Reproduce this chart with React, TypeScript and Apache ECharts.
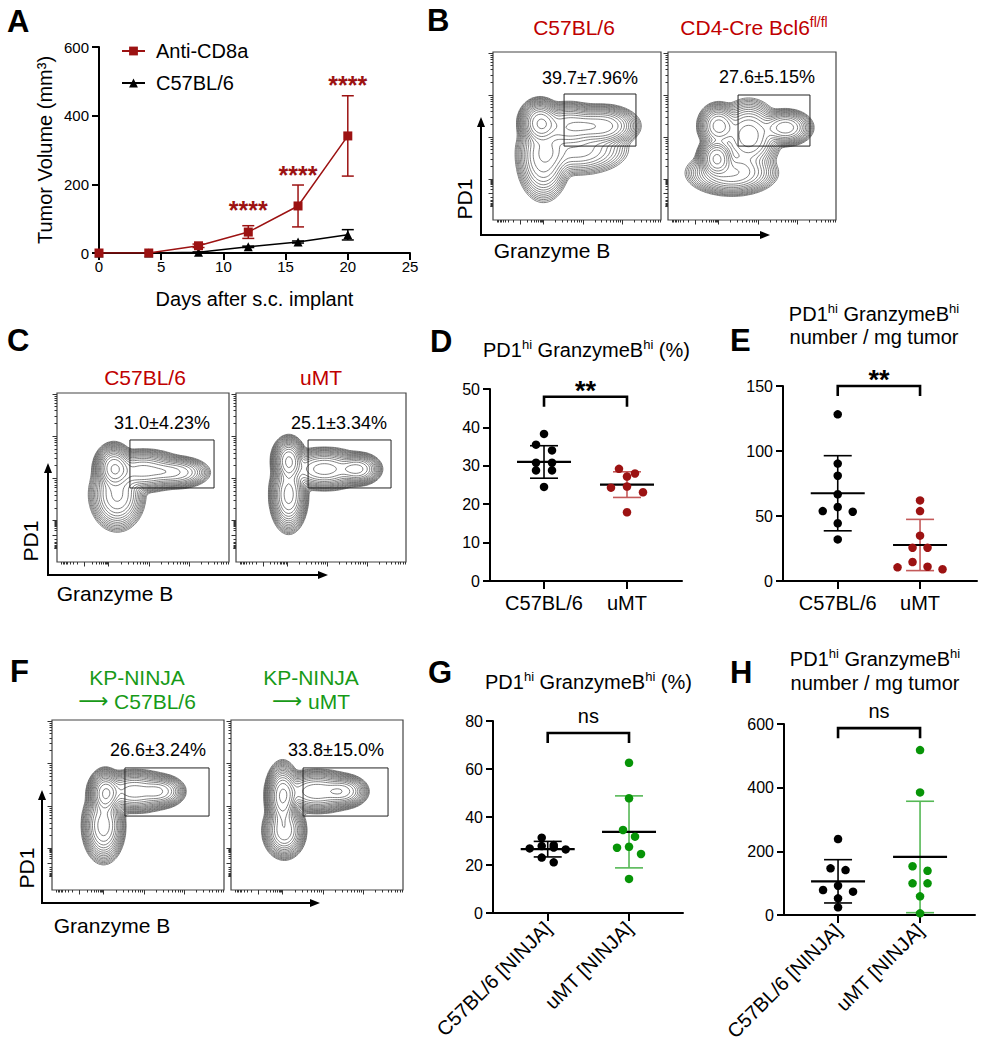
import React, { useEffect, useRef } from "react";
import * as echarts from "echarts";

// ================= DATA =================
// Panel A – tumour growth
const aDays = [0, 4, 8, 12, 16, 20];
const aAntiMean = [0, 0, 21, 61, 137, 341];
const aAntiSd = [0, 0, 5, 18.5, 61, 117];
const aC57Mean = [0, 0, 2, 18, 32, 53];
const aC57Sd = [0, 0, 1, 2, 3, 15];
const aSigDays = [12, 16, 20];
const aSigHeights = [140, 242, 506];
const aSigLabel = "****";
const aXTicks = [0, 5, 10, 15, 20, 25];
const aYTicks = [0, 200, 400, 600];
const aSeriesNames = ["Anti-CD8a", "C57BL/6"];

// Panel D
const dCategories = ["C57BL/6", "uMT"];
const dC57 = [38.3, 35.5, 34.0, 30.8, 30.8, 28.8, 28.8, 24.5];
const dUmt = [29.2, 28.0, 27.2, 24.6, 24.3, 23.1, 17.9];
const dMean = [31.0, 25.1];
const dSd = [4.23, 3.34];
const dYTicks = [0, 10, 20, 30, 40, 50];
const dSig = "**";
const dSigY = 48;

// Panel E
const eC57 = [128.2, 90.3, 81, 66.7, 56.9, 53.8, 53.3, 44.4, 32];
const eUmt = [62, 53.8, 34.9, 25.6, 25.6, 14.6, 11, 10.5, 9];
const eMean = [67.5, 27.7];
const eSd = [28.9, 19.7];
const eYTicks = [0, 50, 100, 150];
const eSig = "**";
const eSigY = 150;

// Panel G
const gCategories = ["C57BL/6 [NINJA]", "uMT [NINJA]"];
const gC57 = [31.4, 28.3, 27.9, 27.3, 26.9, 26.5, 23.1, 21.1];
const gUmt = [62.6, 47.8, 34.6, 31.8, 27.6, 27.2, 24.6, 14.2];
const gMean = [26.6, 33.8];
const gSd = [3.24, 15.0];
const gYTicks = [0, 20, 40, 60, 80];
const gSig = "ns";
const gSigY = 75;

// Panel H
const hC57 = [238.7, 146.6, 141, 92, 78.5, 73.3, 52.4, 24];
const hUmt = [518, 385, 153, 139, 99.5, 99.5, 58.6, 5.2];
const hMean = [105.8, 182.3];
const hSd = [68, 175];
const hYTicks = [0, 200, 400, 600];
const hSig = "ns";
const hSigY = 587;

// Flow plots (B, C, F): density blobs [u, v, spreadU, spreadV, weight], gates [u0, v0, u1, v1]
const bBlobs1 = [[0.28, 0.58, 0.045, 0.05, 1.0], [0.45, 0.56, 0.08, 0.05, 0.55], [0.65, 0.56, 0.08, 0.045, 0.5], [0.3, 0.38, 0.06, 0.1, 0.3], [0.5, 0.42, 0.12, 0.06, 0.15]];
const bBlobs2 = [[0.29, 0.37, 0.04, 0.045, 1.0], [0.3, 0.56, 0.045, 0.05, 0.45], [0.48, 0.5, 0.07, 0.08, 0.35], [0.7, 0.55, 0.06, 0.04, 0.35], [0.38, 0.28, 0.1, 0.05, 0.3]];
const cBlobs1 = [[0.33, 0.56, 0.04, 0.05, 1.0], [0.5, 0.54, 0.09, 0.045, 0.5], [0.7, 0.53, 0.07, 0.035, 0.3], [0.35, 0.4, 0.06, 0.08, 0.35]];
const cBlobs2 = [[0.31, 0.6, 0.035, 0.05, 1.0], [0.31, 0.4, 0.04, 0.08, 0.6], [0.52, 0.55, 0.09, 0.045, 0.45], [0.72, 0.55, 0.05, 0.035, 0.4]];
const fBlobs1 = [[0.31, 0.57, 0.035, 0.05, 1.0], [0.3, 0.38, 0.045, 0.08, 0.5], [0.48, 0.58, 0.09, 0.045, 0.5], [0.64, 0.58, 0.05, 0.035, 0.3]];
const fBlobs2 = [[0.3, 0.55, 0.035, 0.07, 1.0], [0.31, 0.35, 0.045, 0.06, 0.5], [0.5, 0.58, 0.09, 0.045, 0.5], [0.66, 0.58, 0.05, 0.035, 0.35]];
const bGates = [[0.423, 0.44, 0.851, 0.75], [0.417, 0.44, 0.845, 0.744]];
const cGates = [[0.424, 0.438, 0.913, 0.722], [0.424, 0.438, 0.912, 0.722]];
const fGates = [[0.424, 0.435, 0.913, 0.718], [0.419, 0.435, 0.913, 0.718]];
const bPercents = ["39.7±7.96%", "27.6±5.15%"];
const cPercents = ["31.0±4.23%", "25.1±3.34%"];
const fPercents = ["26.6±3.24%", "33.8±15.0%"];
const cTitles = ["C57BL/6", "uMT"];
const fTitles = [["KP-NINJA", "C57BL/6"], ["KP-NINJA", "uMT"]];

// ================= STYLE =================
const FONT = "'Liberation Sans', Arial, Helvetica, sans-serif";
const RED = "#9c1212";
const RED_TITLE = "#c00000";
const RED_ERR = "#c45a5a";
const GREEN = "#079407";
const GREEN_TITLE = "#179a17";
const GREEN_ERR = "#55b855";
const CONTOUR_SHARPNESS = 2.5;
const CONTOUR_SCALE = 1.22;

// ================= HELPERS =================
const MS_TABLE = [[], [3, 0], [0, 1], [3, 1], [1, 2], [3, 0, 1, 2], [0, 2], [3, 2], [2, 3], [0, 2], [0, 1, 2, 3], [1, 2], [1, 3], [0, 1], [0, 3], []];

function contourLevels(blobs: number[][], n: number, count: number, ratio: number) {
  const f = (u: number, v: number) => {
    let s = 0;
    for (const b of blobs) {
      const dx = (u - b[0]) / (b[2] * CONTOUR_SCALE);
      const dy = (v - b[1]) / (b[3] * CONTOUR_SCALE);
      const r = Math.sqrt(dx * dx + dy * dy);
      s += b[4] * Math.exp(-0.5 * Math.pow(r, CONTOUR_SHARPNESS));
    }
    return s;
  };
  const g: number[][] = [];
  let mx = 0;
  for (let i = 0; i <= n; i++) {
    g.push([]);
    for (let j = 0; j <= n; j++) {
      const val = f(i / n, j / n);
      g[i].push(val);
      if (val > mx) mx = val;
    }
  }
  const out: number[][][] = [];
  for (let k = 0; k < count; k++) {
    const L = mx * 0.92 * Math.pow(ratio, k);
    const segs: number[][] = [];
    for (let i = 0; i < n; i++) {
      for (let j = 0; j < n; j++) {
        const v0 = g[i][j], v1 = g[i + 1][j], v2 = g[i + 1][j + 1], v3 = g[i][j + 1];
        const c = (v0 > L ? 1 : 0) | (v1 > L ? 2 : 0) | (v2 > L ? 4 : 0) | (v3 > L ? 8 : 0);
        if (c === 0 || c === 15) continue;
        const x0 = i / n, x1 = (i + 1) / n, y0 = j / n, y1 = (j + 1) / n;
        const e = (q: number): number[] => {
          if (q === 0) return [x0 + ((L - v0) / (v1 - v0)) * (x1 - x0), y0];
          if (q === 1) return [x1, y0 + ((L - v1) / (v2 - v1)) * (y1 - y0)];
          if (q === 2) return [x1 - ((L - v2) / (v3 - v2)) * (x1 - x0), y1];
          return [x0, y1 - ((L - v3) / (v0 - v3)) * (y1 - y0)];
        };
        const t = MS_TABLE[c];
        for (let m = 0; m < t.length; m += 2) {
          const p = e(t[m]), q = e(t[m + 1]);
          segs.push([p[0], p[1], q[0], q[1]]);
        }
      }
    }
    if (segs.length) out.push(segs);
  }
  return out;
}

function logTicks(zero: number, first: number, dec: number) {
  const major = [zero];
  const minor: number[] = [];
  for (let p = first; p <= 1.0001; p += dec) major.push(p);
  const w = first - zero;
  for (let m = 2; m <= 9; m++) {
    const l = Math.log10(m);
    minor.push(zero + w * l, zero - w * l);
    for (let p = first; p + dec * l <= 1; p += dec) minor.push(p + dec * l);
  }
  return { major, minor: minor.filter((t) => t >= 0 && t <= 1) };
}

function swarm(values: number[], center: number, pxY: number, pxX: number, slotPx: number, thrPx: number) {
  const order = values.map((_, i) => i).sort((a, b) => values[b] - values[a]);
  const clusters: number[][] = [];
  for (const i of order) {
    const cur = clusters[clusters.length - 1];
    if (cur && (values[cur[0]] - values[i]) * pxY <= thrPx) cur.push(i);
    else clusters.push([i]);
  }
  const pts: number[][] = [];
  for (const cl of clusters) {
    const n = cl.length;
    const slots = Array.from({ length: n }, (_, j) => j - (n - 1) / 2).sort((a, b) => Math.abs(a) - Math.abs(b) || a - b);
    cl.forEach((i, k) => pts.push([center + (slots[k] * slotPx) / pxX, values[i]]));
  }
  return pts;
}

const seg = (x1: number, y1: number, x2: number, y2: number, stroke: string, lineWidth: number) => ({
  type: "line",
  silent: true,
  shape: { x1, y1, x2, y2 },
  style: { stroke, lineWidth },
});

const txt = (x: number, y: number, text: string, o: any = {}) => ({
  type: "text",
  x,
  y,
  rotation: o.rotation || 0,
  silent: true,
  style: {
    text,
    fontSize: o.size || 20,
    fontFamily: FONT,
    fontWeight: o.weight || "normal",
    fill: o.color || "#000",
    align: o.align || "center",
    verticalAlign: "middle",
    rich: o.rich,
  },
});

const supRich = (size: number, color: string) => ({
  n: { fontSize: size, fontFamily: FONT, lineHeight: size + 4, fill: color },
  s: { fontSize: Math.round(size * 0.65), fontFamily: FONT, verticalAlign: "top", fill: color },
  a: { fontSize: size, fontFamily: "DejaVu Sans", lineHeight: size + 4, fill: color },
});

const arrowV = (x: number, y0: number, tip: number) => [
  seg(x, y0 + 1, x, tip + 8, "#000", 2),
  { type: "polygon", silent: true, shape: { points: [[x - 4, tip + 10], [x + 4, tip + 10], [x, tip]] }, style: { fill: "#000" } },
];
const arrowH = (y: number, x0: number, tip: number) => [
  seg(x0 - 1, y, tip - 8, y, "#000", 2),
  { type: "polygon", silent: true, shape: { points: [[tip - 10, y - 4], [tip - 10, y + 4], [tip, y]] }, style: { fill: "#000" } },
];

// ================= OPTION =================
function buildOption() {
  const grids: any[] = [];
  const xAxes: any[] = [];
  const yAxes: any[] = [];
  const series: any[] = [];
  const axisBase = { color: "#000", width: 2 };

  // ---------- Panel A ----------
  const gA = { left: 99, top: 47, width: 311, height: 206 };
  grids.push({ ...gA, outerBoundsMode: "none" });
  xAxes.push({
    gridIndex: 0, type: "value", min: aXTicks[0], max: aXTicks[aXTicks.length - 1], interval: aXTicks[1] - aXTicks[0],
    axisLine: { onZero: false, lineStyle: axisBase }, axisTick: { length: 7, lineStyle: axisBase },
    axisLabel: { fontSize: 15, color: "#000", fontFamily: FONT, margin: 6 }, splitLine: { show: false },
    name: "Days after s.c. implant", nameLocation: "middle", nameGap: 36,
    nameTextStyle: { fontSize: 20, color: "#000", fontFamily: FONT },
  });
  yAxes.push({
    gridIndex: 0, type: "value", min: aYTicks[0], max: aYTicks[aYTicks.length - 1], interval: aYTicks[1] - aYTicks[0],
    axisLine: { show: true, onZero: false, lineStyle: axisBase }, axisTick: { show: true, length: 7, lineStyle: axisBase },
    axisLabel: { fontSize: 15, color: "#000", fontFamily: FONT, margin: 10 }, splitLine: { show: false },
    name: "Tumor Volume (mm³)", nameLocation: "middle", nameGap: 44, nameRotate: 90,
    nameTextStyle: { fontSize: 20, color: "#000", fontFamily: FONT },
  });
  const errRender = (color: string) => (params: any, api: any) => {
    const x = api.value(0), m = api.value(1), s = api.value(2);
    if (!s) return null;
    const t = api.coord([x, m + s]);
    const b = api.coord([x, Math.max(0, m - s)]);
    return {
      type: "group",
      children: [seg(t[0], t[1], b[0], b[1], color, 1.5), seg(t[0] - 6, t[1], t[0] + 6, t[1], color, 1.5), seg(b[0] - 6, b[1], b[0] + 6, b[1], color, 1.5)],
    };
  };
  series.push(
    { type: "custom", name: "errAnti", xAxisIndex: 0, yAxisIndex: 0, z: 1, silent: true, data: aDays.map((d, i) => [d, aAntiMean[i], aAntiSd[i]]), renderItem: errRender(RED) },
    { type: "custom", name: "errC57", xAxisIndex: 0, yAxisIndex: 0, z: 1, silent: true, data: aDays.map((d, i) => [d, aC57Mean[i], aC57Sd[i]]), renderItem: errRender("#000") },
    {
      type: "line", name: aSeriesNames[0], xAxisIndex: 0, yAxisIndex: 0, z: 3, data: aDays.map((d, i) => [d, aAntiMean[i]]),
      symbol: "rect", symbolSize: 9, itemStyle: { color: RED, opacity: 1 }, lineStyle: { color: RED, width: 1.5 },
    },
    {
      type: "line", name: aSeriesNames[1], xAxisIndex: 0, yAxisIndex: 0, z: 2, data: aDays.map((d, i) => [d, aC57Mean[i]]),
      symbol: "triangle", symbolSize: 9, itemStyle: { color: "#000", opacity: 1 }, lineStyle: { color: "#000", width: 1.5 },
    },
    {
      type: "custom", name: "starsA", xAxisIndex: 0, yAxisIndex: 0, z: 4, silent: true,
      data: aSigDays.map((d, i) => [d, aSigHeights[i]]),
      renderItem: (params: any, api: any) => {
        const p = api.coord([api.value(0), api.value(1)]);
        return { type: "text", x: p[0], y: p[1] + 5.5, style: { text: aSigLabel, fontSize: 25, fontWeight: "bold", fontFamily: FONT, fill: RED, align: "center", verticalAlign: "middle" } };
      },
    }
  );

  // ---------- Dot panels D, E, G, H ----------
  const dotPanels = [
    { grid: { left: 490, top: 389, width: 192, height: 192 }, xMin: -0.651, xMax: 1.663, yTicks: dYTicks, cats: dCategories, a: dC57, b: dUmt, mean: dMean, sd: dSd, sig: dSig, sigY: dSigY, colorB: RED, errB: RED_ERR, slot: 16, rotate: 0, catFont: 20 },
    { grid: { left: 783, top: 386, width: 194, height: 195 }, xMin: -0.665, xMax: 1.692, yTicks: eYTicks, cats: dCategories, a: eC57, b: eUmt, mean: eMean, sd: eSd, sig: eSig, sigY: eSigY, colorB: RED, errB: RED_ERR, slot: 15, rotate: 0, catFont: 20 },
    { grid: { left: 493, top: 721, width: 190, height: 192 }, xMin: -0.673, xMax: 1.664, yTicks: gYTicks, cats: gCategories, a: gC57, b: gUmt, mean: gMean, sd: gSd, sig: gSig, sigY: gSigY, colorB: GREEN, errB: GREEN_ERR, slot: 12, rotate: 45, catFont: 20 },
    { grid: { left: 784, top: 724, width: 191, height: 191 }, xMin: -0.659, xMax: 1.67, yTicks: hYTicks, cats: gCategories, a: hC57, b: hUmt, mean: hMean, sd: hSd, sig: hSig, sigY: hSigY, colorB: GREEN, errB: GREEN_ERR, slot: 15, rotate: 45, catFont: 20 },
  ];
  dotPanels.forEach((p) => {
    const gi = grids.length;
    const ai = xAxes.length;
    grids.push({ ...p.grid, outerBoundsMode: "none" });
    const yMin = p.yTicks[0], yMax = p.yTicks[p.yTicks.length - 1];
    xAxes.push({
      gridIndex: gi, type: "value", min: p.xMin, max: p.xMax,
      axisLine: { show: true, onZero: false, lineStyle: axisBase },
      axisTick: { show: true, customValues: [0, 1], length: 8, lineStyle: axisBase },
      axisLabel: { show: true, customValues: [0, 1], formatter: (v: number) => p.cats[Math.round(v)], fontSize: p.catFont, color: "#000", fontFamily: FONT, margin: 12, rotate: p.rotate },
      splitLine: { show: false },
    });
    yAxes.push({
      gridIndex: gi, type: "value", min: yMin, max: yMax, interval: p.yTicks[1] - p.yTicks[0],
      axisLine: { show: true, onZero: false, lineStyle: axisBase }, axisTick: { show: true, length: 7, lineStyle: axisBase },
      axisLabel: { fontSize: 16, color: "#000", fontFamily: FONT, margin: 10 }, splitLine: { show: false },
    });
    const pxY = p.grid.height / (yMax - yMin);
    const pxX = p.grid.width / (p.xMax - p.xMin);
    const errColors = ["#000", p.errB];
    series.push(
      {
        type: "custom", xAxisIndex: ai, yAxisIndex: ai, z: 1, silent: true,
        data: [0, 1].map((c) => [c, p.mean[c], p.sd[c]]),
        renderItem: (params: any, api: any) => {
          const x = api.value(0), m = api.value(1), s = api.value(2);
          const c = api.coord([x, m]);
          const t = api.coord([x, m + s]);
          const b = api.coord([x, Math.max(yMin, m - s)]);
          const col = errColors[params.dataIndex];
          return {
            type: "group",
            children: [
              seg(c[0], t[1], c[0], b[1], col, 1.6),
              seg(c[0] - 14, t[1], c[0] + 14, t[1], col, 1.6),
              seg(c[0] - 14, b[1], c[0] + 14, b[1], col, 1.6),
              seg(c[0] - 27, c[1], c[0] + 27, c[1], "#000", 2.2),
            ],
          };
        },
      },
      {
        type: "scatter", name: "a" + gi, xAxisIndex: ai, yAxisIndex: ai, z: 3, symbol: "circle", symbolSize: 8.5,
        itemStyle: { color: "#000", opacity: 1 }, data: swarm(p.a, 0, pxY, pxX, p.slot, 7.5),
      },
      {
        type: "scatter", name: "b" + gi, xAxisIndex: ai, yAxisIndex: ai, z: 3, symbol: "circle", symbolSize: 8.5,
        itemStyle: { color: p.colorB, opacity: 1 }, data: swarm(p.b, 1, pxY, pxX, p.slot, 7.5),
      },
      {
        type: "custom", xAxisIndex: ai, yAxisIndex: ai, z: 4, silent: true, clip: false,
        data: [[0, p.sigY]],
        renderItem: (params: any, api: any) => {
          const a = api.coord([0, p.sigY]);
          const b = api.coord([1, p.sigY]);
          const stars = p.sig !== "ns";
          return {
            type: "group",
            children: [
              { type: "polyline", shape: { points: [[a[0], a[1] + 10], [a[0], a[1]], [b[0], b[1]], [b[0], b[1] + 10]] }, style: { stroke: "#000", lineWidth: 2.6, fill: null } },
              {
                type: "text", x: (a[0] + b[0]) / 2, y: a[1] - (stars ? 6 : 17),
                style: { text: p.sig, fontSize: stars ? 27 : 20, fontWeight: stars ? "bold" : "normal", fontFamily: FONT, fill: "#000", align: "center", verticalAlign: "middle" },
              },
            ],
          };
        },
      }
    );
  });

  // ---------- Flow plots B, C, F ----------
  const flowPlots = [
    { grid: { left: 493, top: 52, width: 168, height: 168 }, blobs: bBlobs1, gate: bGates[0] },
    { grid: { left: 668, top: 52, width: 168, height: 168 }, blobs: bBlobs2, gate: bGates[1] },
    { grid: { left: 57, top: 393, width: 172, height: 169 }, blobs: cBlobs1, gate: cGates[0] },
    { grid: { left: 236, top: 393, width: 170, height: 169 }, blobs: cBlobs2, gate: cGates[1] },
    { grid: { left: 52, top: 720, width: 172, height: 170 }, blobs: fBlobs1, gate: fGates[0] },
    { grid: { left: 231, top: 720, width: 172, height: 170 }, blobs: fBlobs2, gate: fGates[1] },
  ];
  const tx = logTicks(0.16, 0.3, 0.235);
  const ty = logTicks(0.16, 0.245, 0.25);
  const tickStyle = { color: "#333", width: 1 };
  const firstFlowAxis = xAxes.length;
  flowPlots.forEach((fp) => {
    const gi = grids.length;
    grids.push({ ...fp.grid, show: true, borderColor: "#444", borderWidth: 1.2, outerBoundsMode: "none" });
    const flowAxis = (vals: number[], pos: string) => ({
      gridIndex: gi, type: "value", min: 0, max: 1, position: pos,
      axisLine: { show: false, onZero: false }, axisLabel: { show: false }, splitLine: { show: false },
      axisTick: { show: true, customValues: vals, length: 4.5, lineStyle: tickStyle },
    });
    xAxes.push(flowAxis(tx.major, "bottom"));
    yAxes.push(flowAxis(ty.major, "left"));
  });
  flowPlots.forEach((fp, k) => {
    const gi = firstFlowAxis + k;
    const flowAxis = (vals: number[], pos: string) => ({
      gridIndex: gi, type: "value", min: 0, max: 1, position: pos,
      axisLine: { show: false, onZero: false }, axisLabel: { show: false }, splitLine: { show: false },
      axisTick: { show: true, customValues: vals, length: 2.5, lineStyle: tickStyle },
    });
    xAxes.push(flowAxis(tx.minor, "bottom"));
    yAxes.push(flowAxis(ty.minor, "left"));
  });
  flowPlots.forEach((fp, k) => {
    const ai = firstFlowAxis + k;
    const levels = contourLevels(fp.blobs, 100, 18, 0.74);
    series.push(
      {
        type: "custom", xAxisIndex: ai, yAxisIndex: ai, z: 2, silent: true,
        data: levels.map(() => [0.5, 0.5]),
        renderItem: (params: any, api: any) => {
          const segs = levels[params.dataIndex];
          let d = "";
          for (const s of segs) {
            const a = api.coord([s[0], s[1]]);
            const b = api.coord([s[2], s[3]]);
            d += "M" + a[0].toFixed(2) + " " + a[1].toFixed(2) + "L" + b[0].toFixed(2) + " " + b[1].toFixed(2);
          }
          return { type: "path", shape: { pathData: d }, style: { fill: "none", stroke: "#555", lineWidth: 0.75 } };
        },
      },
      {
        type: "custom", xAxisIndex: ai, yAxisIndex: ai, z: 3, silent: true,
        data: [fp.gate],
        renderItem: (params: any, api: any) => {
          const a = api.coord([api.value(0), api.value(3)]);
          const b = api.coord([api.value(2), api.value(1)]);
          return { type: "rect", shape: { x: a[0], y: a[1], width: b[0] - a[0], height: b[1] - a[1] }, style: { fill: "none", stroke: "#222", lineWidth: 1 } };
        },
      }
    );
  });

  // ---------- Graphic texts & arrows ----------
  const L = { size: 31, weight: "bold", align: "left" };
  const supTitle = "{n|PD1}{s|hi}{n| GranzymeB}{s|hi}";
  const arrowTitle = (x: number, y: number, t: string) =>
    txt(x, y, "{a|⟶}{n| " + t + "}", { size: 21, color: GREEN_TITLE, rich: supRich(21, GREEN_TITLE) });
  const elements: any[] = [
    txt(7, 21, "A", L), txt(427, 20, "B", L), txt(7, 340, "C", L), txt(430, 341, "D", L),
    txt(730, 340, "E", L), txt(10, 671, "F", L), txt(428, 672, "G", L), txt(730, 672, "H", L),
    // B
    txt(574, 27, "C57BL/6", { size: 21, color: RED_TITLE }),
    txt(754, 27, "{n|CD4-Cre Bcl6}{s|fl/fl}", { size: 21, color: RED_TITLE, rich: supRich(21, RED_TITLE) }),
    txt(590, 78, bPercents[0], { size: 18 }), txt(767, 77, bPercents[1], { size: 18 }),
    txt(464, 199, "PD1", { size: 21, rotation: Math.PI / 2 }), txt(552, 250, "Granzyme B", { size: 21 }),
    ...arrowV(481, 235, 117), ...arrowH(235, 481, 770),
    // C
    txt(145, 377, cTitles[0], { size: 21, color: RED_TITLE }), txt(321, 377, cTitles[1], { size: 21, color: RED_TITLE }),
    txt(162, 423, cPercents[0], { size: 18 }), txt(339, 423, cPercents[1], { size: 18 }),
    txt(30, 541, "PD1", { size: 21, rotation: Math.PI / 2 }), txt(115, 593, "Granzyme B", { size: 21 }),
    ...arrowV(48, 575, 463), ...arrowH(575, 48, 328),
    // F
    txt(137, 677, fTitles[0][0], { size: 21, color: GREEN_TITLE }), arrowTitle(137, 701, fTitles[0][1]),
    txt(311, 677, fTitles[1][0], { size: 21, color: GREEN_TITLE }), arrowTitle(311, 701, fTitles[1][1]),
    txt(158, 750, fPercents[0], { size: 18 }), txt(336, 750, fPercents[1], { size: 18 }),
    txt(26, 868, "PD1", { size: 21, rotation: Math.PI / 2 }), txt(112, 925, "Granzyme B", { size: 21 }),
    ...arrowV(42, 903, 790), ...arrowH(903, 42, 320),
    // D, E, G, H titles
    txt(483, 350, supTitle + "{n| (%)}", { size: 20, align: "left", rich: supRich(20, "#000") }),
    txt(874, 314, supTitle, { size: 20, rich: supRich(20, "#000") }),
    txt(874, 337, "number / mg tumor", { size: 20 }),
    txt(485, 682, supTitle + "{n| (%)}", { size: 20, align: "left", rich: supRich(20, "#000") }),
    txt(875, 659, supTitle, { size: 20, rich: supRich(20, "#000") }),
    txt(875, 683, "number / mg tumor", { size: 20 }),
  ];

  return {
    animation: false,
    backgroundColor: "#fff",
    textStyle: { fontFamily: FONT },
    legend: {
      data: aSeriesNames, orient: "vertical", left: 116, top: 36, itemWidth: 23, itemHeight: 11, itemGap: 12,
      textStyle: { fontSize: 20, fontFamily: FONT, color: "#000", padding: [0, 0, 0, 6] },
      selectedMode: false,
    },
    grid: grids,
    xAxis: xAxes,
    yAxis: yAxes,
    series,
    graphic: { elements },
  };
}

export default function App() {
  const ref = useRef<HTMLDivElement>(null);
  useEffect(() => {
    const chart = echarts.init(ref.current as HTMLDivElement, null, { renderer: "svg" });
    chart.setOption(buildOption() as any);
    return () => chart.dispose();
  }, []);
  return <div ref={ref} style={{ position: "absolute", left: 0, top: 0, width: 983, height: 1050, background: "#fff" }} />;
}
